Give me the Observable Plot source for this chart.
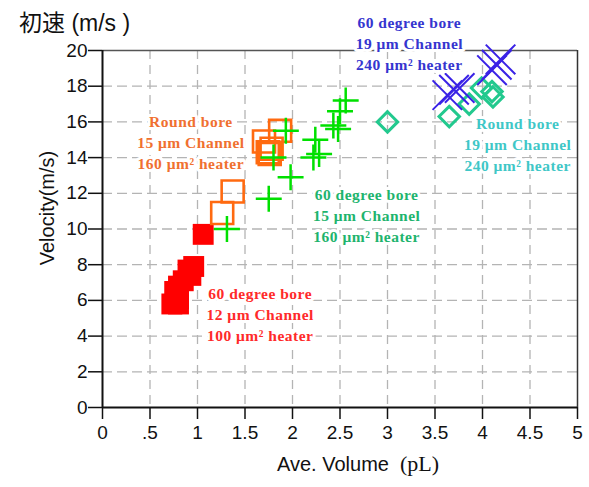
<!DOCTYPE html>
<html>
<head>
<meta charset="utf-8">
<script src="https://cdn.jsdelivr.net/npm/d3@7"></script>
<script src="https://cdn.jsdelivr.net/npm/@observablehq/plot@0.6"></script>
<style>
  body { margin: 0; background: #fff; }
  #wrap { position: relative; width: 589px; height: 487px; }
  #title { position: absolute; left: 19px; top: 4px; font-family: "Liberation Sans", "Noto Sans CJK JP", sans-serif; font-size: 23px; color: #111; z-index: 2; }
  #xlab { position: absolute; left: 277px; top: 451px; font-size: 20px; color: #111; white-space: pre; z-index: 2; }
  #xlab .a { font-family: "Liberation Sans", sans-serif; }
  #xlab .b { font-family: "Liberation Serif", serif; font-size: 22px; }
  svg { position: absolute; left: 0; top: 0; }
  g[aria-label="text"] text { letter-spacing: 0.5px; }
</style>
</head>
<body>
<div id="wrap">
  <div id="title">初速 (m/s )</div>
  <div id="xlab"><span class="a">Ave. Volume  </span><span class="b">(pL)</span></div>
</div>
<script>
// ---- data ----
const xTicks = [0, 0.5, 1, 1.5, 2, 2.5, 3, 3.5, 4, 4.5, 5];
const yTicks = [0, 2, 4, 6, 8, 10, 12, 14, 16, 18, 20];

// 60 degree bore, 12 um channel, 100 um2 heater (red filled squares)
const redX = [1.06, 0.96, 0.90, 0.93, 0.85, 0.80, 0.76, 0.80, 0.73, 0.80];
const redY = [9.7, 7.9, 7.7, 7.4, 7.1, 6.8, 6.5, 6.1, 5.8, 5.8];

// Round bore, 15 um channel, 160 um2 heater (orange open squares)
const orangeX = [1.26, 1.37, 1.70, 1.74, 1.78, 1.76, 1.87];
const orangeY = [10.9, 12.1, 14.9, 14.3, 14.5, 14.2, 15.5];

// 60 degree bore, 15 um channel, 160 um2 heater (green plus)
const greenX = [1.31, 1.75, 1.98, 1.80, 1.93, 2.22, 2.28, 2.24, 2.43, 2.48, 2.50, 2.56];
const greenY = [10.0, 11.7, 12.9, 14.0, 15.5, 14.0, 14.2, 15.0, 15.8, 15.6, 16.6, 17.2];

// Round bore, 19 um channel, 240 um2 heater (teal diamonds)
const tealX = [3.00, 3.65, 3.86, 3.99, 4.10, 4.11];
const tealY = [16.0, 16.3, 17.0, 17.9, 17.7, 17.4];

// 60 degree bore, 19 um channel, 240 um2 heater (blue times)
const blueX = [3.63, 3.70, 3.76, 4.10, 4.15, 4.19];
const blueY = [17.5, 17.8, 17.9, 18.9, 19.2, 19.5];

// annotation labels
const labelText = [
  "Round bore\n15 μm Channel\n160 μm² heater",
  "60 degree bore\n15 μm Channel\n160 μm² heater",
  "60 degree bore\n12 μm Channel\n100 μm² heater",
  "60 degree bore\n19 μm Channel\n240 μm² heater",
  "Round bore\n19 μm Channel\n240 μm² heater"
];
const labelX = [0.93, 2.78, 1.66, 3.23, 4.37];
const labelY = [14.9, 10.81, 5.27, 20.45, 14.8];

// ---- build ----
const pts = (xs, ys) => xs.map((x, i) => ({x, y: ys[i]}));
const labels = labelText.map((t, i) => ({t, x: labelX[i], y: labelY[i], k: i}));
const labelColors = ["#F07030", "#1EB46E", "#FF2A2A", "#3535CF", "#3FC7C7"];

const fmt = d => d === 0.5 ? ".5" : String(d);
const tickFont = {fontSize: 19, fontFamily: "Liberation Sans, Arial, sans-serif"};

const chart = Plot.plot({
  width: 589,
  height: 487,
  marginTop: 50,
  marginLeft: 102,
  marginRight: 12,
  marginBottom: 80,
  style: {background: "transparent", color: "#111", fontFamily: "Liberation Sans, Arial, sans-serif", overflow: "visible"},
  x: {domain: [0, 5], ticks: xTicks, tickFormat: fmt},
  y: {domain: [0, 20], ticks: yTicks},
  marks: [
    Plot.gridX(xTicks.slice(1, -1), {stroke: "#b4b4b4", strokeOpacity: 1, strokeWidth: 1.3, strokeDasharray: "9,6"}),
    Plot.gridY(yTicks.slice(1, -1), {stroke: "#b4b4b4", strokeOpacity: 1, strokeWidth: 1.3, strokeDasharray: "10,5"}),
    Plot.ruleY([20], {stroke: "#555", strokeWidth: 1.5}),
    Plot.ruleX([5], {stroke: "#333", strokeWidth: 1.5}),
    Plot.axisX({ticks: xTicks, tickFormat: fmt, tickSize: 12, tickPadding: 6, label: null, stroke: "#111", strokeWidth: 1.5, ...tickFont}),
    Plot.axisY({ticks: yTicks, tickSize: 14, tickPadding: 1, label: "Velocity(m/s)", labelAnchor: "center", labelArrow: "none", labelOffset: 55, stroke: "#111", strokeWidth: 1.5, ...tickFont}),
    Plot.ruleX([0], {stroke: "#111", strokeWidth: 2}),
    Plot.ruleY([0], {stroke: "#111", strokeWidth: 2}),
    Plot.dot(pts(redX, redY), {x: "x", y: "y", symbol: "square", r: 11.8, fill: "#FF0000", stroke: "none"}),
    Plot.dot(pts(orangeX, orangeY), {x: "x", y: "y", symbol: "square2", r: 14, stroke: "#FF6A10", strokeWidth: 2.6, fill: "none"}),
    Plot.dot(pts(greenX, greenY), {x: "x", y: "y", symbol: "plus", r: 8.4, stroke: "#00E000", strokeWidth: 2.5}),
    Plot.dot(pts(tealX, tealY), {x: "x", y: "y", symbol: "diamond2", r: 9.2, stroke: "#22C98E", strokeWidth: 3, fill: "none"}),
    Plot.dot(pts(blueX, blueY), {x: "x", y: "y", symbol: "times", r: 13.5, stroke: "#3A22E6", strokeWidth: 2}),
    Plot.text(labels, {
      x: "x", y: "y", text: "t", fill: d => labelColors[d.k],
      fontFamily: "Liberation Serif, Times New Roman, serif", fontWeight: "bold", fontSize: 15.5,
      lineHeight: 1.35, lineAnchor: "middle", textAnchor: "middle",
      stroke: "white", strokeWidth: 6, paintOrder: "stroke"
    })
  ]
});
const yl = chart.querySelector("[aria-label='y-axis label'] text");
if (yl) { yl.setAttribute("transform", "translate(48,208) rotate(-90)"); yl.setAttribute("x", 0); yl.setAttribute("y", 0); yl.setAttribute("dy", "0.32em"); yl.style.fontSize = "20px"; yl.setAttribute("text-anchor", "middle"); }
const ylg = chart.querySelector("[aria-label='y-axis label']");
if (ylg) ylg.removeAttribute("transform");
document.getElementById("wrap").appendChild(chart);
</script>
</body>
</html>
